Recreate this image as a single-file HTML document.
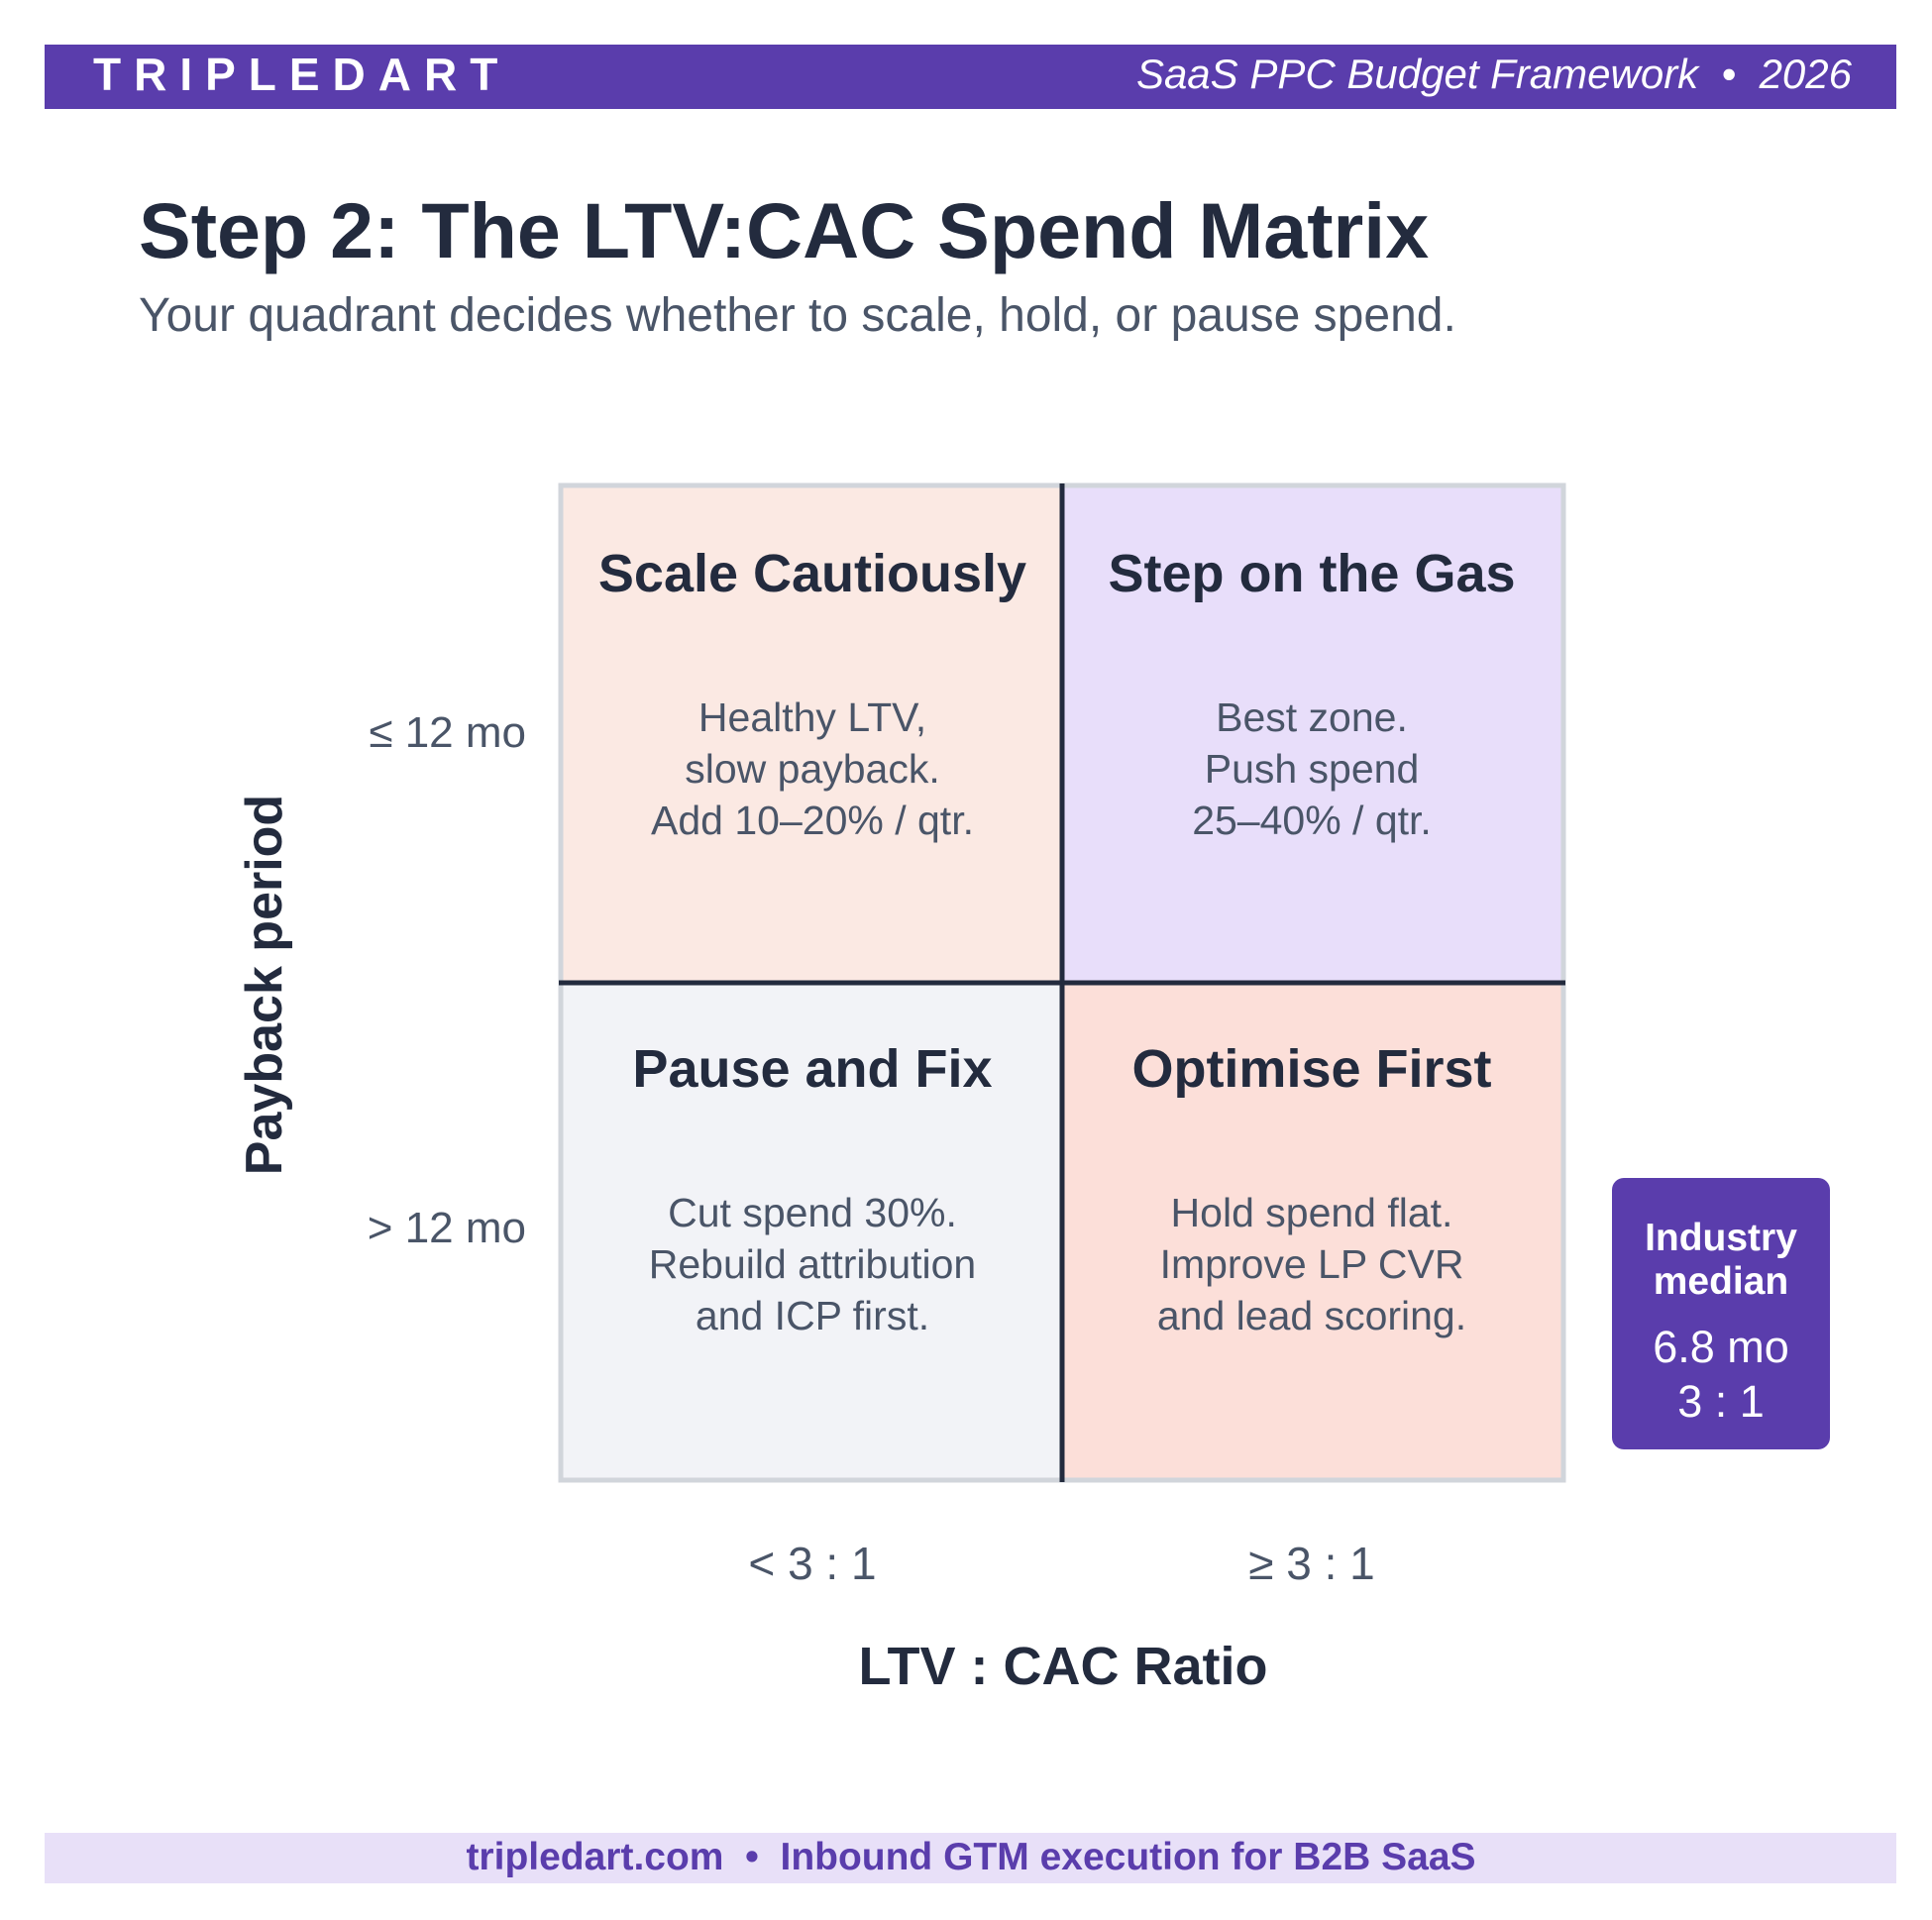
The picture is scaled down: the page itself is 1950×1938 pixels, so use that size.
<!DOCTYPE html>
<html><head><meta charset="utf-8"><style>
html,body{margin:0;padding:0;background:#fff}
svg{display:block}
text{font-family:"Liberation Sans",Arial,sans-serif;white-space:pre}
</style></head><body>
<svg id="chart" width="1950" height="1938" viewBox="0 0 1950 1938" xmlns="http://www.w3.org/2000/svg">
  <rect x="45" y="45" width="1869" height="65" fill="#5a3dac"/>
  <text x="94" y="91" font-size="46" font-weight="bold" fill="#fff" letter-spacing="13">TRIPLEDART</text>
  <text x="1869" y="89" font-size="42" font-style="italic" fill="#fff" text-anchor="end">SaaS PPC Budget Framework  •  2026</text>
  <text x="140" y="260" font-size="79" font-weight="bold" fill="#232b3e">Step 2: The LTV:CAC Spend Matrix</text>
  <text x="140" y="334" font-size="48" fill="#4a5568">Your quadrant decides whether to scale, hold, or pause spend.</text>
  <g id="quads"></g>
  <text transform="translate(284,994) rotate(-90)" font-size="52" font-weight="bold" fill="#232b3e" text-anchor="middle">Payback period</text>
  <text x="1073" y="1700" font-size="54" font-weight="bold" fill="#232b3e" text-anchor="middle">LTV : CAC Ratio</text>
  <g>
    <rect x="1627" y="1189" width="220" height="274" rx="12" fill="#5a3dac"/>
    <text x="1737" y="1262" font-size="39" font-weight="bold" fill="#fff" text-anchor="middle">Industry</text>
    <text x="1737" y="1306" font-size="39" font-weight="bold" fill="#fff" text-anchor="middle">median</text>
    <text x="1737" y="1375" font-size="45" fill="#fff" text-anchor="middle">6.8 mo</text>
    <text x="1737" y="1430" font-size="45" fill="#fff" text-anchor="middle">3 : 1</text>
  </g>
  <rect x="45" y="1850" width="1869" height="51" fill="#e8e0f8"/>
  <text x="980" y="1887" font-size="39" font-weight="bold" fill="#5a3dac" text-anchor="middle">tripledart.com  •  Inbound GTM execution for B2B SaaS</text>
</svg>
<script>
const colLabels = ["< 3 : 1", "≥ 3 : 1"];
const rowLabels = ["≤ 12 mo", "> 12 mo"];
const quadTitles = [["Scale Cautiously", "Step on the Gas"], ["Pause and Fix", "Optimise First"]];
const quadBodies = [
  [["Healthy LTV,", "slow payback.", "Add 10–20% / qtr."], ["Best zone.", "Push spend", "25–40% / qtr."]],
  [["Cut spend 30%.", "Rebuild attribution", "and ICP first."], ["Hold spend flat.", "Improve LP CVR", "and lead scoring."]]
];
const quadFills = [["#fbe9e3", "#e8defa"], ["#f2f3f7", "#fcdfd9"]];

const NS = "http://www.w3.org/2000/svg";
const g = document.getElementById("quads");
const svg = document.getElementById("chart");
const X0 = 568, Y0 = 492, CW = 504, CH = 500;
const xPos = i => X0 + i * CW;
const yPos = j => Y0 + j * CH;
function mk(tag, attrs, parent) {
  const e = document.createElementNS(NS, tag);
  for (const k in attrs) e.setAttribute(k, attrs[k]);
  (parent || g).appendChild(e);
  return e;
}
for (let r = 0; r < 2; r++) {
  for (let c = 0; c < 2; c++) {
    const rect = mk("rect", {x: xPos(c), y: yPos(r), width: CW, height: CH, fill: quadFills[r][c]});
    
    
    const cx = xPos(c) + CW / 2;
    const t = mk("text", {x: cx, y: yPos(r) + 105, "font-size": 54, "font-weight": "bold", fill: "#232b3e", "text-anchor": "middle"});
    t.textContent = quadTitles[r][c];
    
    
    quadBodies[r][c].forEach((line, k) => {
      const b = mk("text", {x: cx, y: yPos(r) + 246 + k * 52, "font-size": 41, fill: "#4a5568", "text-anchor": "middle"});
      b.textContent = line;
      
      
    });
  }
}
const border = mk("rect", {x: X0 - 2, y: Y0 - 2, width: 2 * CW + 4, height: 2 * CH + 4, fill: "none", stroke: "#d1d5db", "stroke-width": 5});


const vl = mk("line", {x1: xPos(1), y1: Y0 - 4, x2: xPos(1), y2: Y0 + 2 * CH + 4, stroke: "#232b3e", "stroke-width": 5});


const hl = mk("line", {x1: X0 - 4, y1: yPos(1), x2: X0 + 2 * CW + 4, y2: yPos(1), stroke: "#232b3e", "stroke-width": 5});


rowLabels.forEach((lab, r) => {
  const t = mk("text", {x: 531, y: yPos(r) + 262, "font-size": 44, fill: "#4a5568", "text-anchor": "end"}, svg);
  t.textContent = lab;
  
  
});
colLabels.forEach((lab, c) => {
  const t = mk("text", {x: xPos(c) + CW / 2, y: 1594, "font-size": 46, fill: "#4a5568", "text-anchor": "middle"}, svg);
  t.textContent = lab;
  
  
});
</script>
</body></html>
